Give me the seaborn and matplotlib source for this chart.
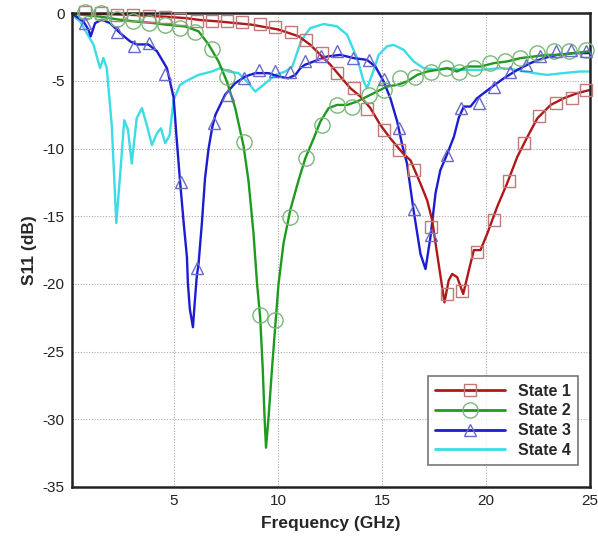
import matplotlib
matplotlib.use("Agg")
import matplotlib.pyplot as plt
from matplotlib.lines import Line2D
from matplotlib.ticker import MultipleLocator
import pandas as pd
import seaborn as sns

# State 1 (red, squares)
s1_f = [0.1, 1.5, 3.0, 4.6, 5.55, 6.3, 7.15, 8.75, 10.03, 11.0, 11.56, 12.04, 12.52, 13.0,
        13.48, 13.96, 14.44, 14.92, 15.4, 15.73, 16.04, 16.37, 16.85, 17.17, 17.41, 17.65,
        17.89, 18.0, 18.2, 18.37, 18.61, 18.9, 19.17, 19.41, 19.73, 20.05, 20.53, 21.0,
        21.5, 21.98, 22.46, 23.1, 23.74, 24.38, 25.0]
s1_db = [0.0, -0.05, -0.12, -0.25, -0.35, -0.5, -0.6, -0.84, -1.2, -1.7, -2.33, -3.07, -3.8,
         -4.67, -5.53, -6.15, -7.0, -8.25, -9.24, -9.85, -10.4, -10.87, -12.6, -13.83, -15.3,
         -17.8, -20.25, -21.36, -19.75, -19.26, -19.5, -20.74, -19.0, -17.5, -17.5, -16.3,
         -14.3, -12.6, -10.6, -9.14, -7.76, -6.77, -6.27, -5.9, -5.66]
s1_mk_f = [0.74, 1.5, 2.26, 3.02, 3.8, 4.56, 5.32, 6.11, 6.83, 7.55, 8.27, 9.15, 9.88, 10.64,
           11.36, 12.12, 12.84, 13.64, 14.3, 15.08, 15.8, 16.52, 17.36, 18.13, 18.82, 19.57,
           20.37, 21.09, 21.81, 22.55, 23.34, 24.14, 24.8]
s1_mk_db = [0.1, 0.0, -0.1, -0.15, -0.2, -0.3, -0.4, -0.6, -0.55, -0.6, -0.64, -0.79, -1.04,
            -1.39, -2.0, -2.94, -4.42, -5.53, -7.1, -8.62, -10.1, -11.56, -15.76, -20.74,
            -20.5, -17.65, -15.24, -12.42, -9.58, -7.6, -6.64, -6.27, -5.66]

# State 2 (green, circles)
s2_f = [0.1, 0.8, 1.5, 2.3, 3.1, 3.9, 4.7, 5.55, 6.19, 6.67, 7.15, 7.55, 7.95, 8.35, 8.59,
        8.83, 9.0, 9.15, 9.27, 9.36, 9.43, 9.55, 9.72, 9.88, 10.03, 10.27, 10.6, 11.0, 11.32,
        11.72, 12.04, 12.44, 12.84, 13.32, 13.8, 14.28, 14.76, 15.24, 15.73, 16.2, 16.69,
        17.17, 17.65, 18.13, 18.6, 19.09, 19.73, 20.37, 21.0, 21.65, 22.29, 22.94, 23.58,
        24.2, 25.0]
s2_db = [0.0, -0.15, -0.25, -0.45, -0.6, -0.7, -0.85, -0.97, -1.33, -2.3, -3.56, -5.04, -7.0,
         -9.8, -12.4, -16.3, -20.0, -22.5, -26.2, -29.9, -32.1, -29.9, -26.2, -23.0, -20.0,
         -17.0, -14.5, -12.3, -10.7, -9.24, -8.0, -7.0, -6.77, -6.77, -6.52, -6.15, -5.78,
         -5.41, -5.29, -5.04, -4.55, -4.3, -4.18, -4.05, -4.3, -3.93, -3.93, -3.68, -3.56,
         -3.31, -3.19, -3.07, -3.07, -2.94, -2.8]
s2_mk_f = [0.74, 1.5, 2.26, 3.02, 3.8, 4.56, 5.32, 6.03, 6.83, 7.55, 8.35, 9.12, 9.88, 10.6,
           11.37, 12.12, 12.84, 13.56, 14.36, 15.08, 15.88, 16.6, 17.33, 18.05, 18.7, 19.41,
           20.2, 20.93, 21.65, 22.46, 23.25, 23.97, 24.78]
s2_mk_db = [0.1, 0.05, -0.45, -0.6, -0.7, -0.85, -1.05, -1.39, -2.6, -4.67, -9.53, -22.3,
            -22.7, -15.07, -10.7, -8.25, -6.77, -6.89, -6.03, -5.66, -4.8, -4.67, -4.3, -4.05,
            -4.3, -4.05, -3.68, -3.56, -3.31, -2.94, -2.81, -2.77, -2.7]

# State 3 (blue, triangles)
s3_f = [0.1, 0.66, 0.9, 1.01, 1.22, 1.54, 1.94, 2.42, 2.9, 3.22, 3.78, 4.19, 4.67, 4.99, 5.15,
        5.3, 5.47, 5.63, 5.68, 5.77, 5.92, 6.0, 6.1, 6.19, 6.35, 6.5, 6.67, 6.85, 7.0, 7.47,
        7.95, 8.43, 8.91, 9.55, 10.03, 10.5, 10.84, 11.08, 11.3, 11.72, 12.36, 13.0, 13.64,
        14.28, 14.68, 15.08, 15.4, 15.73, 15.97, 16.2, 16.52, 16.85, 17.09, 17.33, 17.57,
        17.8, 18.13, 18.45, 18.69, 18.93, 19.25, 19.57, 20.2, 20.85, 21.5, 22.13, 22.77,
        23.42, 24.2, 25.0]
s3_db = [0.0, -0.6, -1.2, -1.7, -0.72, -0.47, -0.72, -1.46, -2.07, -2.3, -2.3, -2.8, -4.05,
         -6.2, -9.5, -12.4, -15.4, -18.0, -20.0, -21.85, -23.2, -21.5, -19.5, -18.5, -15.5,
         -12.2, -10.0, -8.4, -7.5, -6.0, -5.16, -4.67, -4.42, -4.42, -4.67, -4.8, -4.55, -4.05,
         -3.8, -3.56, -3.19, -3.07, -3.31, -3.44, -3.93, -5.04, -6.27, -8.0, -9.73, -11.1,
         -14.6, -17.8, -18.9, -16.5, -13.3, -11.6, -10.4, -9.14, -7.7, -6.89, -6.89, -6.27,
         -5.53, -4.8, -4.18, -3.68, -3.31, -3.07, -2.94, -2.94]
s3_mk_f = [0.74, 2.26, 3.1, 3.83, 4.59, 5.34, 6.1, 6.91, 7.6, 8.35, 9.1, 9.84, 10.6, 11.32,
           12.07, 12.84, 13.59, 14.36, 15.08, 15.8, 16.56, 17.36, 18.13, 18.8, 19.65, 20.37,
           21.17, 21.9, 22.61, 23.34, 24.06, 24.78]
s3_mk_db = [-0.72, -1.39, -2.45, -2.2, -4.5, -12.5, -18.8, -8.1, -6.0, -4.8, -4.2, -4.25,
            -4.35, -3.56, -3.14, -2.81, -3.31, -3.44, -4.87, -8.5, -14.45, -16.4, -10.5, -7.0,
            -6.64, -5.41, -4.3, -3.8, -3.19, -2.81, -2.7, -2.81]

# State 4 (cyan, no markers)
s4_f = [0.02, 0.5, 0.82, 1.14, 1.46, 1.62, 1.78, 2.02, 2.24, 2.45, 2.62, 2.8, 2.98, 3.22,
        3.47, 3.7, 3.95, 4.19, 4.38, 4.59, 4.8, 4.99, 5.3, 5.6, 6.19, 6.83, 7.23, 7.63, 8.11,
        8.59, 8.91, 9.31, 9.88, 10.36, 10.7, 11.08, 11.3, 11.56, 12.2, 12.84, 13.32, 13.8,
        14.12, 14.28, 14.52, 14.84, 15.24, 15.56, 16.04, 16.52, 17.0, 17.65, 18.29, 18.77,
        19.73, 20.7, 21.5, 22.29, 22.94, 23.7, 24.5, 25.0]
s4_db = [0.0, -0.6, -1.46, -2.3, -4.05, -3.3, -4.05, -8.25, -15.5, -11.4, -7.9, -8.6, -11.1,
         -7.75, -7.0, -8.25, -9.73, -8.87, -8.5, -9.6, -9.0, -6.4, -5.29, -5.0, -4.55, -4.3,
         -4.05, -4.3, -4.42, -5.16, -5.78, -5.29, -4.55, -4.3, -3.9, -2.2, -1.6, -1.09, -0.79,
         -0.96, -1.58, -3.3, -5.04, -5.53, -4.55, -3.07, -2.44, -2.33, -2.7, -3.56, -4.05,
         -4.18, -4.05, -4.18, -4.18, -4.05, -4.18, -4.42, -4.55, -4.42, -4.3, -4.3]

labels = ["State 1", "State 2", "State 3", "State 4"]
line_colors = ["#b01818", "#1e9a1e", "#1c1cd0", "#3cdce6"]
marker_colors = ["#c07a7a", "#7ab87a", "#6a6acc", None]
markers = ["s", "o", "^", None]
marker_sizes = [8, 11, 9, 0]

sns.set_style("white")
plt.rcParams["font.family"] = ["Liberation Sans", "DejaVu Sans"]
plt.rcParams["axes.unicode_minus"] = False

fig = plt.figure(figsize=(5.98, 5.44), dpi=100)
ax = fig.add_axes([0.12, 0.105, 0.867, 0.8705])

series = [(s1_f, s1_db), (s2_f, s2_db), (s3_f, s3_db), (s4_f, s4_db)]
frames = []
for lab, (f, db) in zip(labels, series):
    frames.append(pd.DataFrame({"freq": f, "s11": db, "state": lab}))
df = pd.concat(frames, ignore_index=True)

# draw cyan first so the marked curves sit on top
for lab, col in list(zip(labels, line_colors))[::-1]:
    sns.lineplot(data=df[df["state"] == lab], x="freq", y="s11", color=col, lw=1.7,
                 estimator=None, sort=False, ax=ax, legend=False)

mk_data = [(s1_mk_f, s1_mk_db), (s2_mk_f, s2_mk_db), (s3_mk_f, s3_mk_db)]
for (mf, mdb), m, mc, ms in zip(mk_data, markers, marker_colors, marker_sizes):
    ax.plot(mf, mdb, linestyle="none", marker=m, markersize=ms, markerfacecolor="none",
            markeredgecolor=mc, markeredgewidth=1.0, clip_on=False, zorder=3)

ax.set_xlim(0.1, 25)
ax.set_ylim(-35, 0)
ax.xaxis.set_major_locator(MultipleLocator(5))
ax.xaxis.set_minor_locator(MultipleLocator(1))
ax.yaxis.set_major_locator(MultipleLocator(5))
ax.yaxis.set_minor_locator(MultipleLocator(1))
ax.tick_params(which="major", direction="in", length=8, width=1.6, labelsize=11,
               colors="#222222", pad=5)
ax.tick_params(which="minor", direction="in", length=4, width=1.0, colors="#222222")
ax.tick_params(top=False, right=False, which="both")
ax.grid(True, which="major", linestyle=(0, (1, 1.5)), color="#aaaaaa", lw=0.8)
for sp in ax.spines.values():
    sp.set_linewidth(1.8)
    sp.set_color("#222222")

ax.set_xlabel("Frequency (GHz)", fontsize=12.5, fontweight="bold", labelpad=6)
ax.set_ylabel("S11 (dB)", fontsize=12.5, fontweight="bold", labelpad=4)

handles = []
for col, m, mc, ms in zip(line_colors, markers, marker_colors, marker_sizes):
    handles.append(Line2D([0], [0], color=col, lw=2.0, marker=m, markersize=ms,
                          markerfacecolor="none", markeredgecolor=mc, markeredgewidth=1.0))
leg = ax.legend(handles, labels, loc="lower right", bbox_to_anchor=(0.977, 0.046),
                borderaxespad=0, fancybox=False, frameon=True, handlelength=4.4,
                handletextpad=0.8, labelspacing=0.3, borderpad=0.45,
                prop={"weight": "bold", "size": 11.5})
leg.get_frame().set_edgecolor("#555555")
leg.get_frame().set_linewidth(1.2)

fig.savefig("out.png", dpi=100, facecolor="white")
